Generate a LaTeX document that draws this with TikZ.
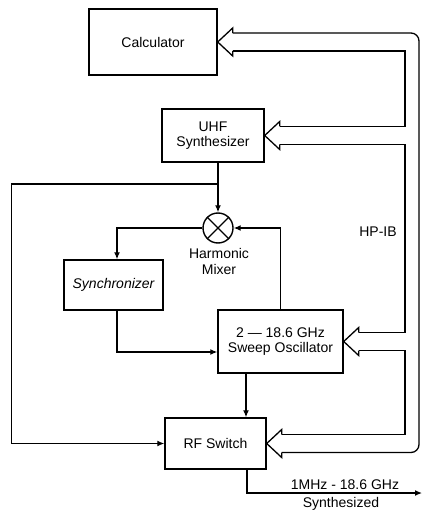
\documentclass[tikz,border=0pt]{standalone}
\usepackage{fontspec}
\setmainfont{Liberation Sans}
\usetikzlibrary{calc,arrows.meta}
\begin{document}
\begin{tikzpicture}[x=1pt,y=-1pt,line width=1.3pt,
  box/.style={draw,line width=1.4pt,inner sep=0pt,align=center,font=\fontsize{14}{15.5}\selectfont},
  lbl/.style={inner sep=0pt,align=center,font=\fontsize{14}{16}\selectfont},
  arr/.style={-{Latex[length=7pt,width=6pt]}},
  bus/.style={line width=1.3pt,line join=miter}]
\useasboundingbox (0,0) rectangle (423,510);
% blocks
\node[box,minimum width=128pt,minimum height=66pt] (calc) at (153,42) {Calculator};
\node[box,minimum width=102pt,minimum height=53pt] (uhf) at (213,135.5) {UHF\\Synthesizer};
\node[box,minimum width=99pt,minimum height=50pt] (sync) at (113.5,285) {\itshape Synchronizer};
\node[box,minimum width=125pt,minimum height=63pt] (sweep) at (280.5,341.5) {2 — 18.6 GHz\\Sweep Oscillator};
\node[box,minimum width=101pt,minimum height=51pt] (rf) at (215.5,443.5) {RF Switch};
\node[draw,circle,minimum size=30pt,inner sep=0pt,line width=1.4pt] (mix) at (218,228) {};
\draw[line width=1.4pt] (mix.north west) -- (mix.south east) (mix.north east) -- (mix.south west);
% labels
\node[lbl] (mixl) at (219,261) {Harmonic\\Mixer};
\node[lbl] (hp) at (378,232) {HP-IB};
\node[lbl] (outl) at (345,485) {1MHz - 18.6 GHz};
\node[lbl] (synl) at (341,504) {Synthesized};
% coordinates
\coordinate (busx) at (405,0);
\coordinate (outx) at (419,0);
\coordinate (br) at (218,184);
\coordinate (outp) at (422,493);
% signal paths
\draw[arr] (uhf.south -| mix) -- (mix.north);
\draw[arr] (br) -| ($(rf.west)+(-153,0)$) -- (rf.west);
\draw[arr] (mix.west) -| ([xshift=3.5pt]sync.north);
\draw[arr] ([xshift=3.5pt]sync.south) |- ([yshift=-10.5pt]sweep.west);
\draw[arr] (sweep.north) |- (mix.east);
\draw[arr] ([xshift=-34.5pt]sweep.south) -- ([xshift=-34.5pt]sweep.south |- rf.north);
\draw[arr] ([xshift=31.5pt]rf.south) |- (outp);
% bus arrow heads
\foreach \n in {calc,uhf,sweep,rf}{
  \coordinate (\n t) at ($(\n.east)+(15,-9)$);
  \coordinate (\n b) at ($(\n.east)+(15,9)$);
  \draw[bus] (\n t) -- ($(\n.east)+(15,-14)$) -- (\n.east) -- ($(\n.east)+(15,14)$) -- (\n b);
}
% bus lines
\draw[bus] (calcb) -- (calcb -| busx) -- (uhft -| busx) -- (uhft);
\draw[bus] (uhfb) -- (uhfb -| busx) -- (sweept -| busx) -- (sweept);
\draw[bus] (sweepb) -- (sweepb -| busx) -- (rft -| busx) -- (rft);
\draw[bus,rounded corners=8pt] (calct) -- (calct -| outx) -- (rfb -| outx) -- (rfb);
\end{tikzpicture}
\end{document}
